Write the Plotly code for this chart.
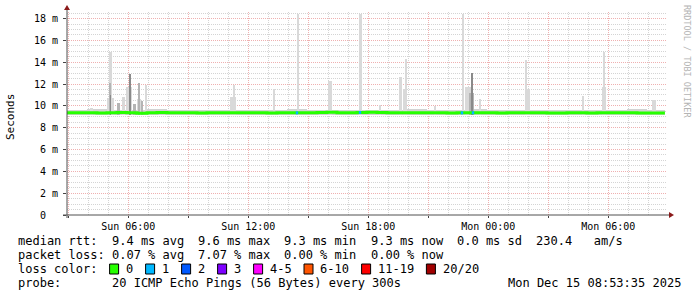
import plotly.graph_objects as go

# ---------------- data (hours since Sun 00:00, values in ms) ----------------
T_LEFT = 2.935          # graph start (Sun 02:56)
T_RIGHT = 32.935        # graph end   (Mon 08:56)
T_DATA_END = 32.83

# median rtt, one value per 30 min starting at graph start
median_ms = [9.38, 9.36, 9.37, 9.35, 9.38, 9.40, 9.36, 9.33, 9.37, 9.39,
             9.36, 9.38, 9.37, 9.35, 9.36, 9.38, 9.37, 9.36, 9.38, 9.37,
             9.35, 9.37, 9.38, 9.36, 9.37, 9.39, 9.41, 9.38, 9.37, 9.40,
             9.42, 9.40, 9.38, 9.36, 9.37, 9.38, 9.36, 9.37, 9.35, 9.36,
             9.37, 9.38, 9.36, 9.35, 9.37, 9.36, 9.38, 9.37, 9.35, 9.34,
             9.36, 9.37, 9.35, 9.36, 9.38, 9.37, 9.36, 9.35, 9.34, 9.35]

# smoke band (hourly) lower / upper ping values
smoke_lo = [9.18, 9.20, 9.17, 9.19, 9.18, 9.20, 9.19, 9.18, 9.20, 9.19,
            9.18, 9.19, 9.20, 9.18, 9.19, 9.20, 9.18, 9.19, 9.18, 9.20,
            9.19, 9.18, 9.19, 9.20, 9.18, 9.19, 9.18, 9.20, 9.19, 9.18]
smoke_hi = [9.62, 9.72, 9.58, 9.64, 9.70, 9.62, 9.58, 9.62, 9.66, 9.60,
            9.62, 9.70, 9.60, 9.66, 9.62, 9.58, 9.62, 9.68, 9.60, 9.62,
            9.72, 9.66, 9.60, 9.62, 9.58, 9.62, 9.66, 9.60, 9.68, 9.62]

# smoke spikes: centre time (h), duration (h), top (ms), smoke layer
spike_hour = [4.16, 5.085, 5.085, 5.10, 5.11, 5.735, 6.035, 6.06, 6.51, 6.535,
              6.885, 11.21, 11.285, 13.285, 14.485, 16.085, 17.61, 18.585, 19.61, 19.835,
              19.86, 21.335, 22.735, 23.035, 23.16, 23.21, 23.56, 25.935, 25.885, 28.71,
              29.76, 29.785, 32.26, 5.5, 6.3, 6.7]
spike_dur = [0.15, 0.35, 0.15, 0.10, 0.05, 0.15, 0.30, 0.10, 0.20, 0.08,
             0.12, 0.30, 0.08, 0.10, 0.13, 0.20, 0.13, 0.10, 0.15, 0.20,
             0.10, 0.10, 0.13, 0.40, 0.25, 0.07, 0.10, 0.25, 0.10, 0.10,
             0.20, 0.07, 0.20, 0.15, 0.15, 0.10]
spike_top = [9.85, 10.7, 14.9, 12.1, 11.0, 10.8, 11.7, 12.9, 10.6, 12.1,
             11.9, 10.8, 11.9, 11.5, 18.4, 12.3, 18.4, 10.1, 12.6, 11.5,
             14.3, 10.0, 18.4, 11.7, 11.2, 13.0, 10.6, 11.5, 14.2, 10.9,
             11.7, 14.9, 10.5, 10.3, 10.2, 10.4]
spike_layer = ['outer', 'outer', 'outer', 'inner', 'core', 'outer', 'outer', 'core', 'outer', 'inner',
               'outer', 'outer', 'outer', 'outer', 'outer', 'outer', 'outer', 'outer', 'outer', 'outer',
               'outer', 'outer', 'outer', 'outer', 'inner', 'core', 'outer', 'outer', 'outer', 'outer',
               'outer', 'outer', 'outer', 'inner', 'inner', 'inner']

# periods with 1/20 packet loss (h)
loss1_hour = [14.435, 17.585, 22.685, 23.235]

y_ticks = [0, 2, 4, 6, 8, 10, 12, 14, 16, 18]
y_ticktext = ['0\u00a0\u00a0', '2 m', '4 m', '6 m', '8 m', '10 m', '12 m', '14 m', '16 m', '18 m']
x_ticks = [3, 6, 9, 12, 15, 18, 21, 24, 27, 30]
x_ticktext = ['', 'Sun 06:00', '', 'Sun 12:00', '', 'Sun 18:00', '', 'Mon 00:00', '', 'Mon 06:00']

loss_labels = ['0', '1', '2', '3', '4-5', '6-10', '11-19', '20/20']
loss_colors = ['#26ff00', '#00b8ff', '#0059ff', '#7e00ff', '#ff00ff', '#ff5500', '#ff0000', '#a10000']

legend_rtt = ['9.4 ms avg', '9.6 ms max', '9.3 ms min', '9.3 ms now', '0.0 ms sd', '230.4   am/s']
legend_loss = ['0.07 % avg', '7.07 % max', '0.00 % min', '0.00 % now']
probe_text = '20 ICMP Echo Pings (56 Bytes) every 300s'
stamp_text = 'Mon Dec 15 08:53:35 2025'

# ---------------- layout geometry ----------------
W, H = 697, 297
PL, PR, PT, PB = 67, 667, 12, 215
MONO = 'DejaVu Sans Mono'


def px(x):
    return (x - PL) / (PR - PL)


def py(y):
    return (PB - y) / (PB - PT)


fig = go.Figure()

# smoke band
n_band = len(smoke_lo)
band_x = [T_LEFT + 0.5 + i for i in range(n_band)]
band_w = [1.0] * n_band
band_w[-1] = T_DATA_END - (T_LEFT + n_band - 1)
band_x[-1] = T_LEFT + n_band - 1 + band_w[-1] / 2
fig.add_trace(go.Bar(x=band_x, y=[h - l for h, l in zip(smoke_hi, smoke_lo)], base=smoke_lo,
                     width=band_w, marker=dict(color='#d2d2d2', line=dict(width=0)),
                     hoverinfo='skip', showlegend=False))

layer_colors = {'outer': '#d9d9d9', 'inner': '#b4b4b4', 'core': '#8a8a8a'}
for layer in ['outer', 'inner', 'core']:
    idx = [i for i, l in enumerate(spike_layer) if l == layer]
    fig.add_trace(go.Bar(x=[spike_hour[i] for i in idx],
                         y=[spike_top[i] - 9.2 for i in idx],
                         base=[9.2] * len(idx),
                         width=[spike_dur[i] for i in idx],
                         marker=dict(color=layer_colors[layer], line=dict(width=0)),
                         hoverinfo='skip', showlegend=False))

# median line
mx = [T_LEFT + 0.5 * i for i in range(len(median_ms))] + [T_DATA_END]
my = median_ms + [median_ms[-1]]
fig.add_trace(go.Scatter(x=mx, y=my, mode='lines', line=dict(color=loss_colors[0], width=3, shape='hv'),
                         hoverinfo='skip', showlegend=False))

# loss-coloured segments
for t in loss1_hour:
    k = min(int((t - T_LEFT) / 0.5), len(median_ms) - 1)
    v = median_ms[k]
    fig.add_trace(go.Scatter(x=[t - 0.06, t + 0.06], y=[v, v], mode='lines',
                             line=dict(color=loss_colors[1], width=3),
                             hoverinfo='skip', showlegend=False))

grid_minor = '#d4d4d4'
grid_major = '#efb0b0'
fig.update_xaxes(range=[T_LEFT, T_RIGHT], tickvals=x_ticks, ticktext=x_ticktext,
                 showgrid=True, gridcolor=grid_major, griddash='1px,1px', gridwidth=1,
                 ticks='outside', ticklen=2, tickcolor='#444', zeroline=False, showline=False,
                 tickfont=dict(family=MONO, size=10, color='#000'),
                 minor=dict(dtick=1, tick0=0, showgrid=True, gridcolor=grid_minor, griddash='1px,1px',
                            gridwidth=1, ticks=''),
                 fixedrange=True)
fig.update_yaxes(range=[0, 18.6], tickvals=y_ticks, ticktext=y_ticktext,
                 showgrid=True, gridcolor=grid_major, griddash='1px,1px', gridwidth=1,
                 ticks='outside', ticklen=3, tickcolor='#444', zeroline=False, showline=False,
                 tickfont=dict(family=MONO, size=10, color='#000'), ticklabelstandoff=3,
                 minor=dict(dtick=0.5, tick0=0, showgrid=True, gridcolor=grid_minor, griddash='1px,1px',
                            gridwidth=1, ticks=''),
                 fixedrange=True)

shapes = []
# axes lines
shapes.append(dict(type='line', xref='paper', yref='paper', x0=px(67), x1=px(67), y0=py(218), y1=py(9),
                   line=dict(color='#505050', width=1)))
shapes.append(dict(type='line', xref='paper', yref='paper', x0=px(63), x1=px(669), y0=py(215), y1=py(215),
                   line=dict(color='#505050', width=1)))
# arrows
shapes.append(dict(type='path', xref='paper', yref='paper',
                   path=f'M {px(64)} {py(10)} L {px(70)} {py(10)} L {px(67)} {py(5)} Z',
                   fillcolor='#8b1a1a', line=dict(width=0)))
shapes.append(dict(type='path', xref='paper', yref='paper',
                   path=f'M {px(669)} {py(212)} L {px(669)} {py(218)} L {px(674)} {py(215)} Z',
                   fillcolor='#8b1a1a', line=dict(width=0)))

annotations = []
# y axis title
annotations.append(dict(xref='paper', yref='paper', x=px(11), y=py(117), text='Seconds', textangle=-90,
                        showarrow=False, xanchor='center', yanchor='middle',
                        font=dict(family=MONO, size=11, color='#000')))
# watermark
annotations.append(dict(xref='paper', yref='paper', x=px(687), y=py(61), text='RRDTOOL / TOBI OETIKER',
                        textangle=90, showarrow=False, xanchor='center', yanchor='middle',
                        font=dict(family=MONO, size=8.5, color='#b4b4b4')))

X0 = 16
CW = 7.2
FS = 12


def text_at(col, y, s):
    annotations.append(dict(xref='paper', yref='paper', x=px(X0 + col * CW), y=py(y),
                            text=s.replace(' ', '\u00a0'), showarrow=False, xanchor='left', yanchor='middle',
                            font=dict(family=MONO, size=FS, color='#000')))


L1, L2, L3, L4 = 241, 255, 269, 283
text_at(0, L1, 'median rtt:')
col = 13
for s in legend_rtt:
    text_at(col, L1, s)
    col += len(s) + 2
text_at(0, L2, 'packet loss:')
col = 13
for s in legend_loss:
    text_at(col, L2, s)
    col += len(s) + 2
text_at(0, L3, 'loss color:')
col = 13
for lab, c in zip(loss_labels, loss_colors):
    bx = X0 + col * CW
    shapes.append(dict(type='rect', xref='paper', yref='paper', x0=px(bx), x1=px(bx + 9),
                       y0=py(L3 - 5), y1=py(L3 + 5), fillcolor=c, line=dict(color='#000', width=1)))
    text_at(col + 2, L3, lab)
    col += len(lab) + 4
text_at(0, L4, 'probe:')
text_at(13, L4, probe_text)
annotations.append(dict(xref='paper', yref='paper', x=px(683), y=py(L4), text=stamp_text.replace(' ', '\u00a0'),
                        showarrow=False, xanchor='right', yanchor='middle',
                        font=dict(family=MONO, size=FS, color='#000')))

fig.update_layout(width=W, height=H, autosize=False,
                  margin=dict(l=PL, r=W - PR, t=PT, b=H - PB, pad=0),
                  paper_bgcolor='#ffffff', plot_bgcolor='#ffffff',
                  barmode='overlay', bargap=0, showlegend=False,
                  shapes=shapes, annotations=annotations,
                  font=dict(family=MONO))

fig.write_html('out.html', config={'displayModeBar': False})
